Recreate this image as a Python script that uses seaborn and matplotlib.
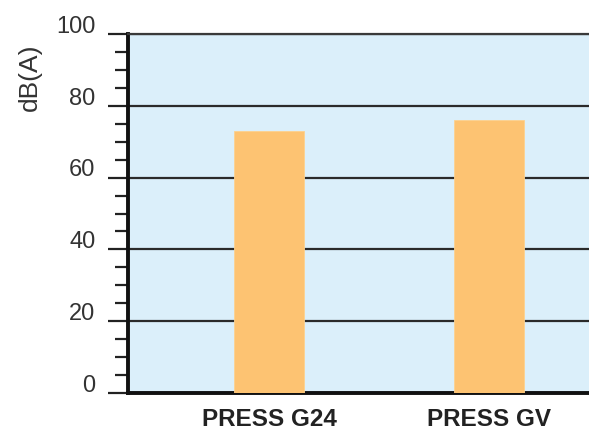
import seaborn as sns
import matplotlib.pyplot as plt
import matplotlib.transforms as mtransforms
from matplotlib.ticker import MultipleLocator
import pandas as pd

machines = ['PRESS G24', 'PRESS GV']
noise_db = [73, 76]
y_ticks = [0, 20, 40, 60, 80, 100]

sns.set_style('white')
plt.rcParams['font.family'] = ['Liberation Sans', 'DejaVu Sans']

df = pd.DataFrame({'machine': machines, 'dB': noise_db})

fig = plt.figure(figsize=(5.89, 4.32), dpi=100)
ax = fig.add_axes([128 / 589, 39 / 432, 461 / 589, 359 / 432])
ax.set_facecolor('#dbeffa')

sns.barplot(x='machine', y='dB', data=df, color='#fdc372', width=0.32,
            saturation=1, ax=ax, zorder=3, edgecolor='#fdd28e', linewidth=0.6)

ax.set_xlim(-0.641, 1.455)
ax.set_ylim(0, 100)
ax.set_yticks(y_ticks)
ax.yaxis.set_minor_locator(MultipleLocator(5))
ax.grid(axis='y', color='#2a2a2a', linewidth=1.6, zorder=1)
ax.set_axisbelow(True)

ax.spines['right'].set_visible(False)
ax.spines['top'].set_color('#3a3a3a')
ax.spines['top'].set_linewidth(1.6)
ax.spines['left'].set_color('#111111')
ax.spines['left'].set_linewidth(2.8)
ax.spines['bottom'].set_color('#111111')
ax.spines['bottom'].set_linewidth(2.8)

ax.tick_params(axis='y', which='both', left=True)
ax.tick_params(axis='y', which='major', length=14.4, width=1.6, color='#222222',
               labelsize=17, labelcolor='#333333', pad=9)
ax.tick_params(axis='y', which='minor', length=9.4, width=1.6, color='#222222')
ax.tick_params(axis='x', length=0, labelsize=17.5, pad=11)
for lbl in ax.get_xticklabels():
    lbl.set_fontweight('bold')
    lbl.set_color('#222222')

offset = mtransforms.ScaledTranslation(0, 7 / 72, fig.dpi_scale_trans)
for lbl in ax.get_yticklabels():
    lbl.set_transform(lbl.get_transform() + offset)

ax.set_xlabel('')
ax.set_ylabel('')
fig.text(30 / 589, 1 - 77 / 432, 'dB(A)', rotation=90, fontsize=19,
         color='#333333', ha='center', va='center')

plt.savefig('out.png', dpi=100)
